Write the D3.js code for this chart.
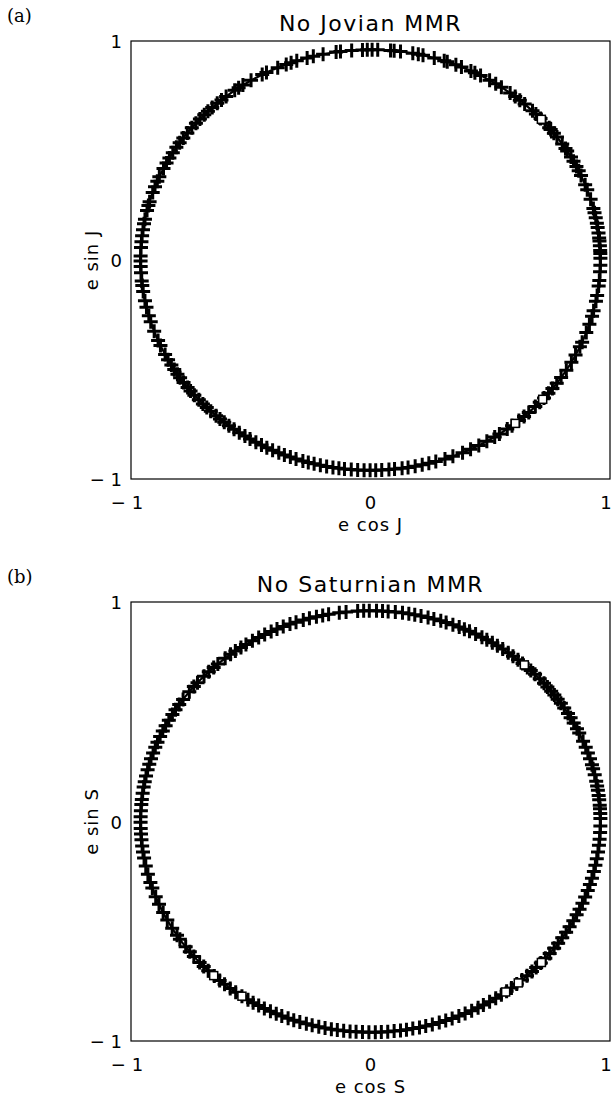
<!DOCTYPE html>
<html>
<head>
<meta charset="utf-8">
<script src="https://cdn.jsdelivr.net/npm/d3@7"></script>
<style>
  body { margin: 0; background: #fff; }
  svg { display: block; }
  text { font-family: "DejaVu Sans", sans-serif; fill: #000; }
  .panel-tag { font-family: "DejaVu Serif", serif; }
</style>
</head>
<body>
<svg></svg>
<script>
let width = 613,
    height = 1101,
    svg = d3.select("svg")
        .attr("width", width)
        .attr("height", height)

// axis ticks (both panels)
let tickValues = [-1, 0, 1];

// eccentricity of the circulating trajectory
let eccJ = 0.96;
let eccS = 0.96;

// panel (a): angle of each '+' point (degrees)
let anglesJ = [
  0.5, 1.8, 2.6, 3.9, 5.2, 6.0, 7.4, 8.9, 10.1, 11.6, 13.0, 14.2, 16.8, 19.5, 21.0, 23.7, 25.1, 26.4, 28.0, 29.3,
  31.2, 32.0, 33.5, 35.8, 37.1, 38.4, 39.0, 40.6, 42.3, 44.0, 45.2, 47.9, 49.5, 51.0, 52.6, 55.3, 57.0, 58.8,
  61.4, 63.0, 64.1, 66.7, 68.2, 70.5, 71.3, 73.9, 76.8, 78.0, 79.4, 82.5, 84.1, 85.0, 88.2, 89.6, 90.8, 92.0,
  94.7, 97.5, 98.6, 101.9, 104.4, 106.0, 108.7, 110.2, 111.5, 113.8, 116.9, 118.1,
  121.3, 123.7, 125.0, 126.2, 128.9, 130.4, 131.8, 133.5, 135.0, 136.3, 137.9, 139.4, 141.0, 142.8, 144.5, 146.1, 147.6, 149.3,
  151.0, 152.5, 154.2, 156.7, 158.0, 159.6, 161.3, 163.9, 165.0, 166.4, 168.8, 170.1, 171.7, 173.4, 175.0, 176.6, 178.9,
  180.3, 181.8, 183.5, 185.7, 187.0, 188.6, 191.2, 193.0, 195.4, 197.1, 199.8, 202.5, 204.0, 206.7, 208.3,
  210.0, 211.4, 212.9, 214.1, 215.6, 217.3, 218.5, 220.0, 221.7, 223.2, 224.6, 226.0, 227.8, 229.1, 230.5, 232.0, 233.6, 235.2, 236.9, 238.4,
  240.1, 241.7, 243.2, 244.8, 246.5, 248.0, 249.6, 251.1, 252.9, 254.3, 255.8, 257.4, 259.0, 260.6, 262.1, 263.5, 265.2, 266.8, 268.4, 269.9,
  271.3, 272.8, 274.6, 276.0, 277.9, 279.4, 281.2, 283.0, 284.7, 286.5, 288.9, 291.0, 293.6, 295.8, 298.1,
  300.4, 302.7, 304.1, 306.5, 308.0, 310.2, 311.9, 313.5, 315.8, 317.4, 319.0, 320.7, 322.3, 324.1, 326.0, 328.4, 330.9,
  333.1, 335.6, 337.0, 339.8, 342.2, 344.5, 346.0, 348.7, 350.3, 352.9, 354.4, 356.8, 358.6
];
// panel (a): angle of each open square (degrees)
let squaresJ = [42.0, 309.0, 318.5];

// panel (b): angle of each '+' point (degrees)
let anglesS = [
  0.8, 2.2, 3.5, 4.4, 5.9, 7.1, 8.5, 9.7, 11.0, 12.8, 14.5, 15.6, 17.3, 19.0, 20.6, 22.4, 24.8, 26.1, 27.9, 29.5,
  30.8, 32.6, 34.1, 35.5, 36.9, 38.2, 39.7, 41.0, 42.6, 44.3, 45.8, 47.0, 48.6, 50.1, 51.7, 53.2, 54.9, 56.5, 58.0, 59.6,
  61.0, 62.8, 64.5, 65.9, 67.3, 69.0, 70.8, 72.2, 74.0, 75.5, 77.3, 78.9, 80.4, 82.0, 83.8, 85.6, 87.0, 88.5, 90.3, 91.7,
  93.2, 96.1, 97.8, 100.5, 102.0, 103.6, 105.4, 107.0, 108.9, 110.5, 112.3, 114.0, 115.6, 117.4, 119.1,
  120.9, 122.8, 124.3, 126.0, 127.5, 129.2, 131.6, 133.0, 134.7, 136.4, 138.8, 140.2, 142.0, 144.6, 146.3, 148.0, 149.5,
  151.3, 153.0, 154.6, 156.2, 157.9, 159.4, 161.0, 162.7, 164.2, 165.8, 167.5, 169.1, 170.6, 172.3, 174.0, 175.4, 177.1, 178.7,
  180.2, 181.9, 183.4, 185.0, 186.7, 188.3, 190.0, 192.2, 194.5, 196.8, 198.4, 200.9, 203.1, 205.6, 207.9,
  210.4, 212.7, 214.0, 216.5, 218.2, 219.8, 222.0, 223.5, 225.1, 227.2, 229.0, 230.6, 232.4, 234.1, 236.0, 237.8, 239.3,
  240.9, 242.5, 244.2, 245.8, 247.3, 249.0, 250.5, 252.1, 253.8, 255.3, 257.0, 258.6, 260.2, 261.7, 263.3, 264.9, 266.4, 268.0, 269.6,
  271.2, 272.7, 274.3, 275.9, 277.5, 279.0, 280.6, 282.3, 283.9, 285.6, 287.4, 289.1, 290.8, 292.6, 294.3, 296.1, 297.9, 299.4,
  301.2, 303.0, 304.7, 306.3, 307.8, 309.5, 311.2, 312.9, 314.6, 316.1, 317.8, 319.5, 321.2, 323.0, 324.7, 326.5, 328.3, 330.0,
  331.9, 333.7, 335.4, 337.2, 339.0, 340.9, 342.6, 344.4, 346.3, 348.0, 349.8, 351.7, 353.5, 355.2, 357.0, 358.8
];
// panel (b): angle of each open square (degrees)
let squaresS = [48.0, 306.0, 310.0, 318.0, 227.0, 236.0];

let panels = [
    {tag: "(a)", title: "No Jovian MMR", xLabel: "e cos J", yLabel: "e sin J",
     ecc: eccJ, angles: anglesJ, squares: squaresJ, top: 41, bottom: 479},
    {tag: "(b)", title: "No Saturnian MMR", xLabel: "e cos S", yLabel: "e sin S",
     ecc: eccS, angles: anglesS, squares: squaresS, top: 602, bottom: 1041}
];

let left = 131, right = 610;
let plusArm = 7;
let rad = Math.PI / 180;

panels.forEach(p=>{
    let x = d3.scaleLinear().domain([-1, 1]).range([left, right]);
    let y = d3.scaleLinear().domain([-1, 1]).range([p.bottom, p.top]);
    let g = svg.append("g");

    // panel tag
    g.append("text")
        .attr("class", "panel-tag")
        .attr("x", 7)
        .attr("y", p.top - 19)
        .attr("font-size", 18)
        .text(p.tag);

    // title
    g.append("text")
        .attr("x", (left + right) / 2)
        .attr("y", p.top - 10)
        .attr("text-anchor", "middle")
        .attr("font-size", 22)
        .attr("letter-spacing", 1.5)
        .text(p.title);

    // trajectory line
    g.append("ellipse")
        .attr("cx", x(0))
        .attr("cy", y(0))
        .attr("rx", x(p.ecc) - x(0))
        .attr("ry", y(0) - y(p.ecc))
        .attr("fill", "none")
        .attr("stroke", "#000")
        .attr("stroke-width", 2.2);

    // '+' points
    g.append("g").selectAll("path")
        .data(p.angles)
        .enter().append("path")
        .attr("transform", d=>"translate(" + x(p.ecc * Math.cos(d * rad)) + "," + y(p.ecc * Math.sin(d * rad)) + ")")
        .attr("d", "M" + (-plusArm) + ",0H" + plusArm + "M0," + (-plusArm) + "V" + plusArm)
        .attr("stroke", "#000")
        .attr("stroke-width", 3)
        .attr("fill", "none");

    // open squares
    g.append("g").selectAll("rect")
        .data(p.squares)
        .enter().append("rect")
        .attr("x", d=>x(p.ecc * Math.cos(d * rad)) - 4)
        .attr("y", d=>y(p.ecc * Math.sin(d * rad)) - 4)
        .attr("width", 8)
        .attr("height", 8)
        .attr("fill", "#fff")
        .attr("stroke", "#000")
        .attr("stroke-width", 1.5);

    // frame
    g.append("rect")
        .attr("x", left)
        .attr("y", p.top)
        .attr("width", right - left)
        .attr("height", p.bottom - p.top)
        .attr("fill", "none")
        .attr("stroke", "#000")
        .attr("stroke-width", 1.2);

    // x tick labels
    g.append("g").selectAll("text")
        .data(tickValues)
        .enter().append("text")
        .attr("x", d=>x(d) + (d < 0 ? -4 : (d > 0 ? -4 : 0)))
        .attr("y", p.bottom + 30)
        .attr("text-anchor", "middle")
        .attr("font-size", 18)
        .text(d=>d < 0 ? "\u2212 " + Math.abs(d) : d);

    // y tick labels
    g.append("g").selectAll("text")
        .data(tickValues)
        .enter().append("text")
        .attr("x", left - 9)
        .attr("y", d=>y(d) + 7)
        .attr("text-anchor", "end")
        .attr("font-size", 18)
        .text(d=>d < 0 ? "\u2212 " + Math.abs(d) : d);

    // axis labels
    g.append("text")
        .attr("x", (left + right) / 2)
        .attr("y", p.bottom + 52)
        .attr("text-anchor", "middle")
        .attr("font-size", 18)
        .attr("letter-spacing", 1)
        .text(p.xLabel);

    g.append("text")
        .attr("transform", "translate(" + 98 + "," + ((p.top + p.bottom) / 2) + ") rotate(-90)")
        .attr("text-anchor", "middle")
        .attr("font-size", 18)
        .attr("letter-spacing", 1)
        .text(p.yLabel);
});
</script>
</body>
</html>
